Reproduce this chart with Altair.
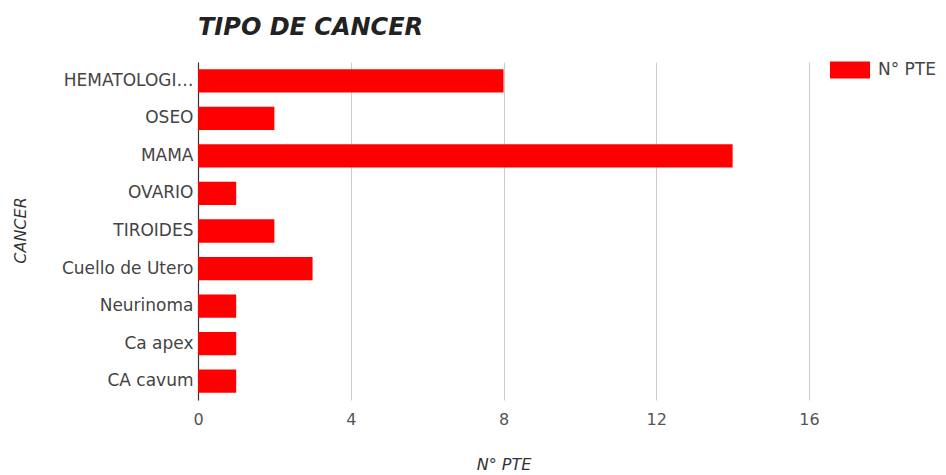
import altair as alt
import pandas as pd

# Patient counts by cancer type
tipos = ["HEMATOLOGI…", "OSEO", "MAMA", "OVARIO", "TIROIDES",
         "Cuello de Utero", "Neurinoma", "Ca apex", "CA cavum"]
pacientes = [8, 2, 14, 1, 2, 3, 1, 1, 1]
serie = "N° PTE"
x_ticks = [0, 4, 8, 12, 16]

df = pd.DataFrame({"tipo": tipos, "n": pacientes, "serie": [serie] * len(tipos)})

FONT = "DejaVu Sans"

bars = alt.Chart(df).mark_bar().encode(
    y=alt.Y(
        "tipo:N",
        sort=tipos,
        scale=alt.Scale(paddingInner=0.38, paddingOuter=0.19),
        axis=alt.Axis(
            title="CANCER",
            titleFontStyle="italic",
            titleFontWeight="normal",
            titleFontSize=16,
            titleColor="#333333",
            titleFont=FONT,
            titleX=-178,
            titleY=168,
            titleAngle=-90,
            titleAlign="center",
            titleBaseline="middle",
            labelFont=FONT,
            labelFontSize=17,
            labelColor="#444444",
            labelPadding=5,
            labelLimit=200,
            ticks=False,
            domain=True,
            domainColor="#333333",
            domainWidth=1.2,
            grid=False,
        ),
    ),
    x=alt.X(
        "n:Q",
        scale=alt.Scale(domain=[0, 16], nice=False),
        axis=alt.Axis(
            title=serie,
            titleFontStyle="italic",
            titleFontWeight="normal",
            titleFontSize=16,
            titleColor="#333333",
            titleFont=FONT,
            titlePadding=29,
            values=x_ticks,
            labelFont=FONT,
            labelFontSize=16,
            labelColor="#555555",
            labelPadding=11,
            labelFlush=False,
            ticks=False,
            domain=False,
            grid=True,
            gridColor="#cccccc",
        ),
    ),
    color=alt.Color(
        "serie:N",
        scale=alt.Scale(range=["#ff0000"]),
        legend=alt.Legend(
            title=None,
            orient="none",
            legendX=632,
            legendY=-12,
            symbolType="M-1,-0.42H1V0.42H-1Z",
            symbolSize=1600,
            symbolStrokeWidth=0,
            symbolOpacity=1,
            labelFont=FONT,
            labelFontSize=17,
            labelColor="#444444",
            labelOffset=8,
        ),
    ),
)

chart = bars.properties(
    width=611,
    height=338,
    autosize=alt.AutoSizeParams(type="none"),
    padding={"left": 198, "top": 62, "right": 137, "bottom": 75},
    title=alt.TitleParams(
        "TIPO DE CANCER",
        anchor="start",
        frame="group",
        font=FONT,
        fontSize=24,
        fontStyle="italic",
        fontWeight="bold",
        color="#222222",
        offset=10,
    ),
).configure(background="white", view=alt.ViewConfig(stroke=None))

chart.save("out.html", embed_options={"renderer": "svg", "actions": False})
